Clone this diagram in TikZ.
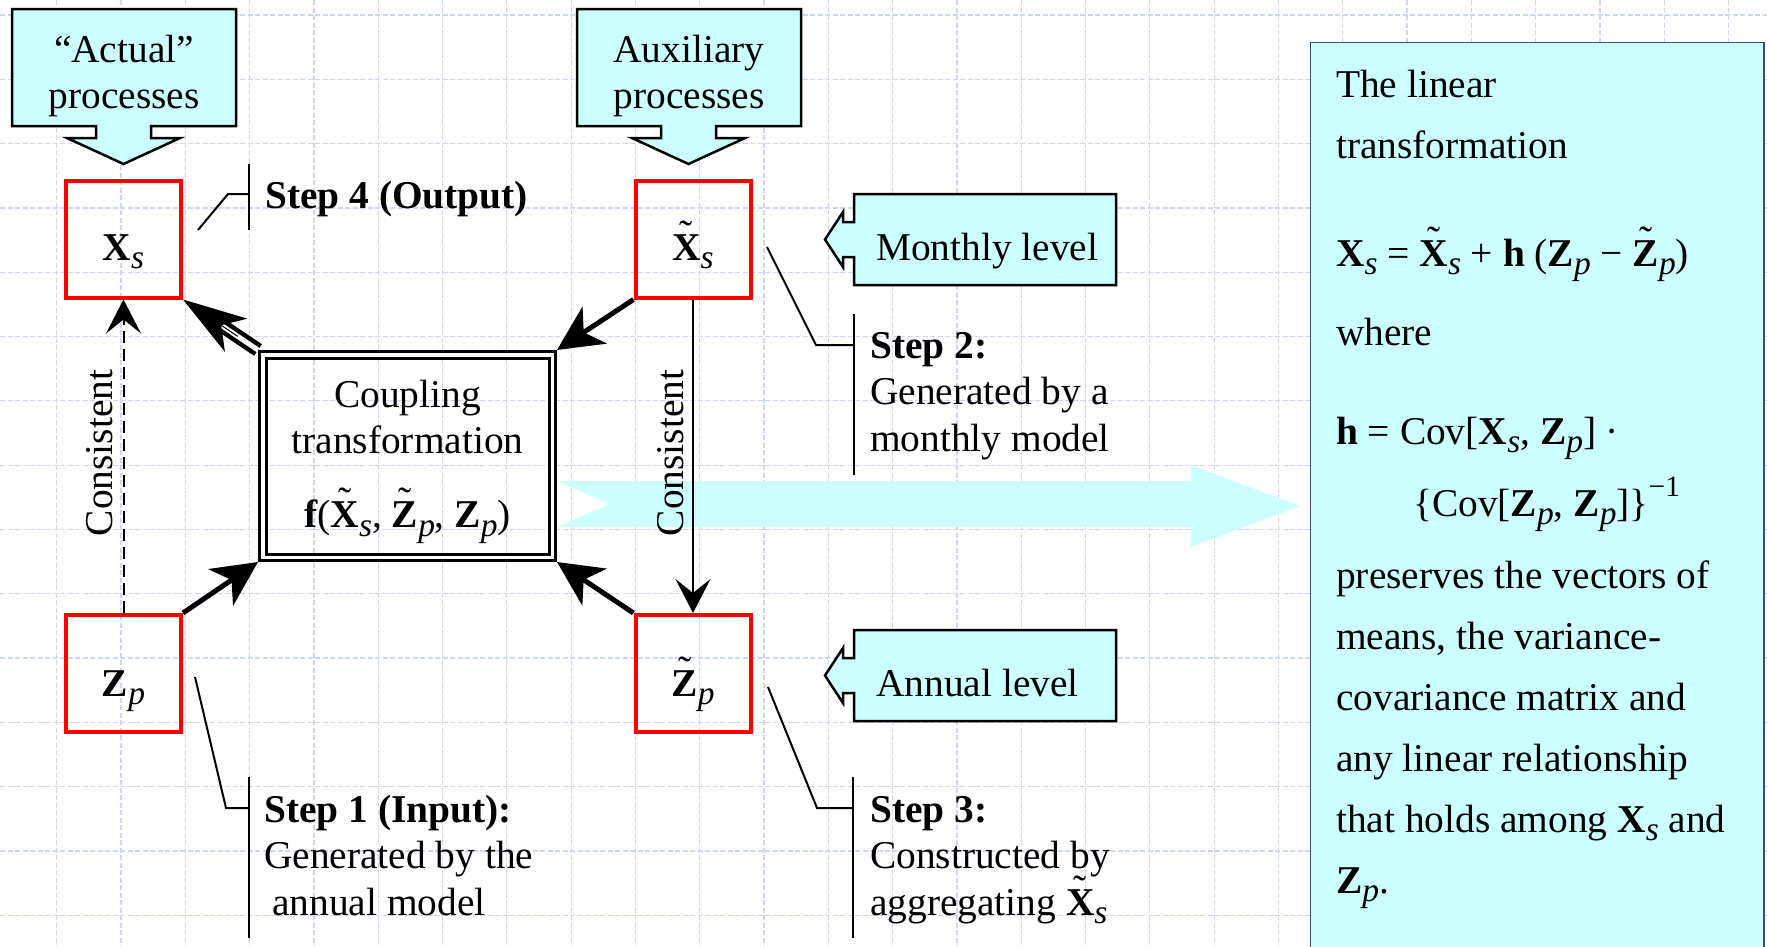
\documentclass[tikz,border=0pt]{standalone}
\usepackage{fontspec}
\setmainfont{Liberation Serif}
\usetikzlibrary{arrows.meta,calc}
\definecolor{cyanfill}{HTML}{CCFFFF}
\definecolor{gridc}{RGB}{205,214,242}
\definecolor{panelb}{RGB}{60,70,140}
\newcommand\fs{\fontsize{39.4}{46.5}\selectfont}
\newcommand\fp{\fontsize{39.4}{61}\selectfont}
\newcommand\sbs[1]{\raisebox{-0.22em}{\scalebox{0.85}{\textit{#1}}}}
\newcommand\bX{\textbf{X}}
\newcommand\bZ{\textbf{Z}}
\newcommand\tld[1]{\ooalign{#1\cr\hidewidth\raisebox{0.32em}{\normalfont\char"02DC}\hidewidth\cr}}
\newcommand\tX{\tld{\textbf{X}}}
\newcommand\tZ{\tld{\textbf{Z}}}
\newcommand\lns[2][l]{\begin{tabular}[t]{@{}#1@{}}#2\end{tabular}}
\begin{document}
\begin{tikzpicture}[x=1pt,y=-1pt,
  gridline/.style={draw=gridc, line width=1.2pt, dash pattern=on 5pt off 2.5pt},
  redbox/.style={draw=red, line width=4pt, minimum width=115pt, minimum height=117pt, inner sep=0pt},
  coupbox/.style={draw, line width=3pt, double, double distance=3.5pt, minimum width=289.5pt, minimum height=202.5pt, outer sep=4.75pt, inner sep=0pt},
  thickarrow/.style={line width=5pt, -{Stealth[length=45pt,width=44pt,inset=13pt]}},
  thinarrow/.style={line width=2pt, -{Stealth[length=34pt,width=35pt,inset=14pt]}},
  txt/.style={font=\fs, inner sep=0pt},
  callout/.style={draw, line width=2.5pt, fill=cyanfill, line join=miter},
  leader/.style={line width=2pt}]
\useasboundingbox (0,0) rectangle (1767,946);
\fill[white] (0,0) rectangle (1767,946);
% grid
\begin{scope}
\clip (0,0) rectangle (1767,946);
\foreach \i in {0,...,26} {\draw[gridline] ({56.7+64.3*\i},0) -- ({56.7+64.3*\i},946);}
\foreach \j in {0,...,14} {\draw[gridline] (0,{15+64.3*\j}) -- (1767,{15+64.3*\j});}
% right panel
\node[draw=panelb, fill=cyanfill, line width=1.5pt, anchor=north west, minimum width=453.5pt, minimum height=950pt, inner sep=0pt] (panel) at (1309.75,41.75) {};
\end{scope}
% big cyan arrow
\fill[cyanfill] (557,481) -- (1191,481) -- (1191,465) -- (1300,506) -- (1191,547) -- (1191,527) -- (557,527) -- (610,504) -- cycle;
% top callouts
\draw[callout] (12,9) -- (236,9) -- (236,126) -- (151,126) -- (151,138) -- (180,138) -- (123.5,164) -- (67,138) -- (96,138) -- (96,126) -- (12,126) -- cycle;
\node[txt, anchor=base] (act) at (124,62) {\lns[c]{“Actual”\\processes}};
\draw[callout] (577,9) -- (801,9) -- (801,126) -- (716,126) -- (716,138) -- (745,138) -- (688.5,164) -- (632,138) -- (661,138) -- (661,126) -- (577,126) -- cycle;
\node[txt, anchor=base] (aux) at (689,62) {\lns[c]{Auxiliary\\processes}};
% level callouts
\draw[callout] (854,194) -- (1116,194) -- (1116,285) -- (854,285) -- (854,257) -- (843,257) -- (843,267) -- (825,239.5) -- (843,212) -- (843,222) -- (854,222) -- cycle;
\node[txt, anchor=base west] (mon) at (876,260) {Monthly level};
\draw[callout] (854,630) -- (1116,630) -- (1116,721) -- (854,721) -- (854,693) -- (843,693) -- (843,703) -- (825,675.5) -- (843,648) -- (843,658) -- (854,658) -- cycle;
\node[txt, anchor=base west] (ann) at (876,696) {Annual level};
% boxes
\node[redbox] (xs) at (123.5,239) {};
\node[redbox] (xt) at (693,239) {};
\node[redbox] (zp) at (123.5,673.5) {};
\node[redbox] (zt) at (693,673.5) {};
\node[txt, anchor=base] (xsl) at (123.5,260) {\bX\sbs{s}};
\node[txt, anchor=base] (xtl) at (693,260) {\tX\sbs{s}};
\node[txt, anchor=base] (zpl) at (123.5,696) {\bZ\sbs{p}};
\node[txt, anchor=base] (ztl) at (693,696) {\tZ\sbs{p}};
% coupling
\node[coupbox] (coup) at (407.5,456) {};
\node[txt, anchor=base] (coupt) at (407.5,407) {\lns[c]{Coupling\\transformation\\[27.5pt]\textbf{f}(\tX\sbs{s}, \tZ\sbs{p}, \bZ\sbs{p})}};
% consistent
\draw[line width=2pt, dash pattern=on 12pt off 6pt, -{Stealth[length=34pt,width=35pt,inset=14pt]}] (zp.north) -- (xs.south);
\draw[thinarrow] (xt.south) -- (zt.north);
\node[txt, rotate=90, anchor=base] (c1) at (112,453) {Consistent};
\node[txt, rotate=90, anchor=base] (c2) at (683,453) {Consistent};
% thick arrows
\draw[thickarrow] (xt.south west) -- (coup.north east);
\draw[thickarrow] (zp.north east) -- (coup.south west);
\draw[thickarrow] (zt.north west) -- (coup.south east);
% double arrow
\draw[line width=4.5pt, double, double distance=5pt, shorten >=46pt] (coup.north west) -- (xs.south east);
\draw[line width=1pt, -{Stealth[length=64pt,width=40pt,inset=18pt]}] ($(xs.south east)!66pt!(coup.north west)$) -- (xs.south east);
% step labels
\draw[leader] (198,230) -- (228,194) -- (249,194);
\draw[leader] (249,164) -- (249,230);
\node[txt, anchor=base west] (s4) at (265,208) {\textbf{Step 4 (Output)}};
\draw[leader] (767,247) -- (816,345) -- (854,345);
\draw[leader] (854,314) -- (854,475);
\node[txt, anchor=base west] (s2) at (870,358) {\lns{\textbf{Step 2:}\\Generated by a\\monthly model}};
\draw[leader] (195,677) -- (226,808) -- (249,808);
\draw[leader] (249,777) -- (249,938);
\node[txt, anchor=base west] (s1) at (264,822) {\lns{\textbf{Step 1 (Input):}\\Generated by the\\\hspace*{8pt}annual model}};
\draw[leader] (768,687) -- (817,808) -- (853,808);
\draw[leader] (853,777) -- (853,938);
\node[txt, anchor=base west] (s3) at (870,822) {\lns{\textbf{Step 3:}\\Constructed by\\aggregating \tX\sbs{s}}};
% panel text
\node[inner sep=0pt, font=\fp, anchor=base west] (ptext) at (1336,97) {\lns{The linear\\transformation\\[47pt]
\bX\sbs{s} = \tX\sbs{s} + \textbf{h} (\bZ\sbs{p} − \tZ\sbs{p})\\[18pt]
where\\[38pt]
\textbf{h} = Cov[\bX\sbs{s}, \bZ\sbs{p}] ·\\[11pt]
\hspace*{77pt}\{Cov[\bZ\sbs{p}, \bZ\sbs{p}]\}\raisebox{0.5em}{\scalebox{0.75}{−1}}\\[11pt]
preserves the vectors of\\
means, the variance-\\
covariance matrix and\\
any linear relationship\\
that holds among \bX\sbs{s} and\\
\bZ\sbs{p}.}};
\end{tikzpicture}
\end{document}
